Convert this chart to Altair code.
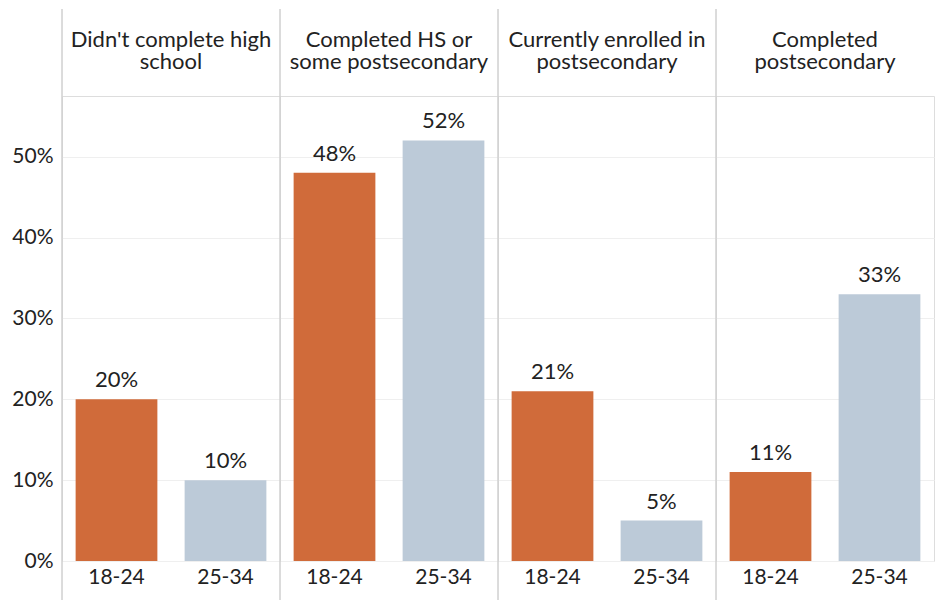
import altair as alt
import pandas as pd

categories = ["Didn't complete high|school", "Completed HS or|some postsecondary",
              "Currently enrolled in|postsecondary", "Completed|postsecondary"]
ages = ["18-24", "25-34"]
share_18_24 = [0.20, 0.48, 0.21, 0.11]
share_25_34 = [0.10, 0.52, 0.05, 0.33]
y_ticks = [0, 0.1, 0.2, 0.3, 0.4, 0.5]

rows = []
for c, a, b in zip(categories, share_18_24, share_25_34):
    rows.append({"category": c, "age": ages[0], "value": a})
    rows.append({"category": c, "age": ages[1], "value": b})
df = pd.DataFrame(rows)

FONT = "Lato"
TXT = "#222222"
H = 465
W = 218

base = alt.Chart(df)

bars = base.mark_bar().encode(
    x=alt.X("age:N", sort=ages, title=None,
            scale=alt.Scale(paddingInner=0.25, paddingOuter=0.125),
            axis=alt.Axis(labelAngle=0, ticks=False, domain=False, labelFontSize=21,
                          labelPadding=5, labelColor=TXT, labelFont=FONT)),
    y=alt.Y("value:Q", title=None,
            scale=alt.Scale(domain=[0, 0.575], nice=False),
            axis=alt.Axis(format=".0%", values=y_ticks, ticks=False, domain=False,
                          labelFontSize=21, labelPadding=9, labelColor=TXT,
                          labelFont=FONT, gridColor="#efefef")),
    color=alt.Color("age:N", scale=alt.Scale(domain=ages, range=["#D06B3A", "#BCCAD8"]),
                    legend=None),
)

labels = base.mark_text(fontSize=22, dy=-7, baseline="bottom", font=FONT, color=TXT).encode(
    x=alt.X("age:N", sort=ages),
    y=alt.Y("value:Q"),
    text=alt.Text("value:Q", format=".0%"),
)

vline = base.mark_rule(color="#d0d0d0", strokeWidth=1).encode(
    x=alt.value(0),
    y=alt.value(-87),
    y2=alt.value(H + 40),
)

chart = alt.layer(bars, labels, vline).properties(width=W, height=H).facet(
    column=alt.Column("category:N", sort=categories, title=None,
                      header=alt.Header(labelExpr="split(datum.label, '|')",
                                        labelFontSize=22, labelColor=TXT, labelFont=FONT,
                                        labelPadding=22, labelLineHeight=22)),
    spacing=0,
    bounds="flush",
).configure_view(stroke="#d0d0d0").configure(padding={"left": 11, "top": 8, "right": 0, "bottom": 0})

chart.save("out.html", embed_options={"renderer": "svg", "actions": False})
